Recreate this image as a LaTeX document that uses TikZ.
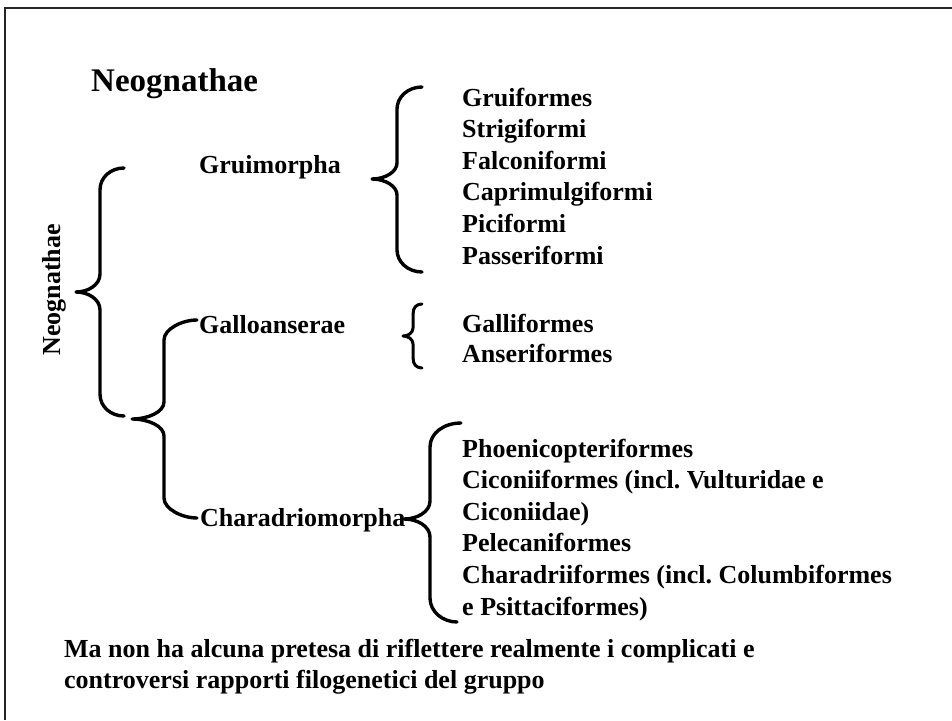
\documentclass[tikz,border=0pt]{standalone}
\usepackage{fontspec}
\setmainfont{Liberation Serif}
\usetikzlibrary{positioning}
\frenchspacing

\begin{document}
\begin{tikzpicture}[x=1pt,y=-1pt,
  lbl/.style={anchor=base west,inner sep=0pt,font=\fontsize{26}{31}\selectfont\bfseries},
  brace/.style={line width=3.4pt,line cap=round,line join=round}]
  \useasboundingbox (0,0) rectangle (952,720);
  % --- frame ---
  \draw[line width=2pt,black!85] (5,720) -- (5,8) -- (952,8);
  % --- titles ---
  \node[lbl,font=\fontsize{33}{38}\selectfont\bfseries] (title) at (91,91) {Neognathae};
  \node[lbl,anchor=base,rotate=90] (neo) at (60,290) {Neognathae};
  % --- groups ---
  \node[lbl] (grui) at (199,173) {Gruimorpha};
  \node[lbl] (gallo) at (199,333) {Galloanserae};
  \node[lbl] (chara) at (200,526) {Charadriomorpha};
  % --- orders ---
  \foreach \name [count=\i from 0] in {Gruiformes,Strigiformi,Falconiformi,Caprimulgiformi,Piciformi,Passeriformi}
    \node[lbl] (gru\i) at (462,{106+31.6*\i}) {\name};
  \node[lbl] (gal0) at (462,332) {Galliformes};
  \node[lbl] (gal1) at (462,362) {Anseriformes};
  \foreach \name [count=\i from 0] in {Phoenicopteriformes,Ciconiiformes (incl. Vulturidae e,Ciconiidae),Pelecaniformes,Charadriiformes (incl. Columbiformes,e Psittaciformes)}
    \node[lbl] (cha\i) at (462,{457+31.6*\i}) {\name};
  % --- braces ---
  \draw[brace] (124,168) .. controls (111,168) and (100,177) .. (100,190) -- (100,274)
    .. controls (100,285) and (88,292) .. (76,292) .. controls (88,292) and (100,299) .. (100,310)
    -- (100,394) .. controls (100,407) and (111,416) .. (124,416);
  \draw[brace] (197,320) .. controls (182,320) and (164,329) .. (164,340) -- (164,402)
    .. controls (164,412) and (148,419) .. (132,419) .. controls (148,419) and (164,426) .. (164,436)
    -- (164,498) .. controls (164,509) and (182,518) .. (197,518);
  \draw[brace] (422,87) .. controls (408,87) and (397,97) .. (397,109) -- (397,163)
    .. controls (397,172) and (385,179) .. (372,179) .. controls (385,179) and (397,186) .. (397,195)
    -- (397,250) .. controls (397,262) and (408,272) .. (422,272);
  \draw[brace,line width=3pt] (422,304) .. controls (417,304) and (413,307) .. (413,314) -- (413,328)
    .. controls (413,333) and (408,336) .. (403,336) .. controls (408,336) and (413,339) .. (413,344)
    -- (413,358) .. controls (413,365) and (417,368) .. (422,368);
  \draw[brace] (461,423) .. controls (444,423) and (430,433) .. (430,447) -- (430,501)
    .. controls (430,512) and (417,519) .. (404,519) .. controls (417,519) and (430,526) .. (430,537)
    -- (430,598) .. controls (430,612) and (443,622) .. (457,622);
  % --- note ---
  \node[lbl] (note1) at (64,657) {Ma non ha alcuna pretesa di riflettere realmente i complicati e};
  \node[lbl] (note2) at (64,688) {controversi rapporti filogenetici del gruppo};
\end{tikzpicture}
\end{document}
